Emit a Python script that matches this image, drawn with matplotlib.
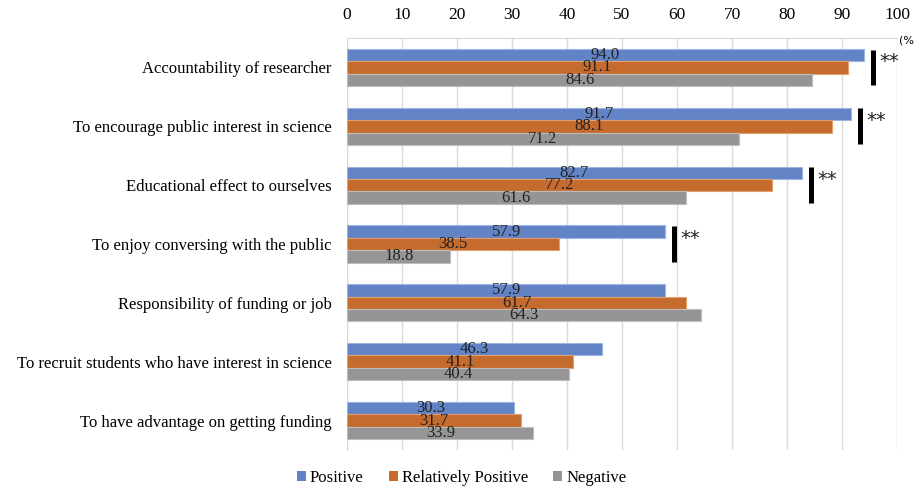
import numpy as np
import matplotlib.pyplot as plt
from matplotlib.patches import Patch

plt.rcParams['font.family'] = ['Liberation Serif', 'DejaVu Serif']

reasons = ["Accountability of researcher",
           "To encourage public interest in science",
           "Educational effect to ourselves",
           "To enjoy conversing with the public",
           "Responsibility of funding or job",
           "To recruit students who have interest in science",
           "To have advantage on getting funding"]
positive = [94.0, 91.7, 82.7, 57.9, 57.9, 46.3, 30.3]
rel_positive = [91.1, 88.1, 77.2, 38.5, 61.7, 41.1, 31.7]
negative = [84.6, 71.2, 61.6, 18.8, 64.3, 40.4, 33.9]
significant = [True, True, True, True, False, False, False]
series_names = ["Positive", "Relatively Positive", "Negative"]

colors = ["#6283C6", "#C56B2E", "#959595"]
edges = ["#9FB4E0", "#E0A070", "#BDBDBD"]

fig = plt.figure(figsize=(9.14, 4.88), dpi=100)
ax = fig.add_axes([0.3797, 0.078, 0.6017, 0.844])

y = np.arange(len(reasons))
h = 0.21
for i, vals in enumerate([positive, rel_positive, negative]):
    pos = y + (i - 1) * h
    ax.barh(pos, vals, height=h, color=colors[i], edgecolor=edges[i],
            linewidth=0.8, zorder=3)
    for p, v in zip(pos, vals):
        ax.text(v / 2, p, f"{v:.1f}", ha="center", va="center",
                fontsize=12, color="#222222", zorder=4)

# significance markers
for k, sig in enumerate(significant):
    if not sig:
        continue
    xm = max(positive[k], rel_positive[k], negative[k]) + 1.6
    ax.plot([xm, xm], [k - 1.45 * h, k + 1.45 * h], color="black",
            linewidth=3.6, solid_capstyle="butt", zorder=5)
    ax.text(xm + 1.2, k - 0.45 * h, "**", fontsize=14, ha="left",
            va="center", family="DejaVu Sans", color="#222222")

ax.set_xlim(0, 100)
ax.set_ylim(len(reasons) - 0.5, -0.5)
ax.set_xticks(range(0, 101, 10))
ax.xaxis.tick_top()
ax.tick_params(axis="x", length=0, pad=11, labelsize=12.5)
ax.tick_params(axis="y", length=0, pad=11, labelsize=12)
ax.set_yticks(y)
ax.set_yticklabels(reasons)
ax.grid(axis="x", color="#D9D9D9", linewidth=1, zorder=0)
for s in ["right", "bottom"]:
    ax.spines[s].set_visible(False)
ax.spines["top"].set_color("#D9D9D9")
ax.spines["left"].set_color("#D9D9D9")

fig.text(0.984, 0.918, "(%", fontsize=8, ha="left", va="center",
         family="DejaVu Sans")

handles = [Patch(facecolor=c, edgecolor="none") for c in colors]
fig.legend(handles, series_names, loc="center", bbox_to_anchor=(0.505, 0.02),
           ncol=3, frameon=False, fontsize=12, handlelength=0.55,
           handleheight=0.55, handletextpad=0.25, columnspacing=1.5)

fig.savefig("out.png", dpi=100)
